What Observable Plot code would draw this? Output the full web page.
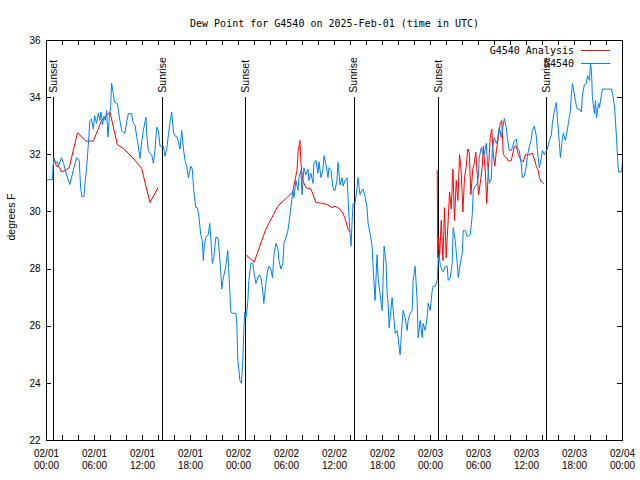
<!DOCTYPE html>
<html><head><meta charset="utf-8">
<script src="https://cdn.jsdelivr.net/npm/d3@7"></script>
<script src="https://cdn.jsdelivr.net/npm/@observablehq/plot@0.6"></script>
<style>body{margin:0;background:#fff} svg{display:block}</style>
</head><body><div id="chart"></div>
<script>
const title = "Dew Point for G4540 on 2025-Feb-01 (time in UTC)";
const yLabel = "degrees F";
const seriesNames = ["G4540 Analysis", "G4540"];
const seriesColors = ["#ff0000", "#0080ff"];
const xTicks = [0, 6, 12, 18, 24, 30, 36, 42, 48, 54, 60, 66, 72];
const xTickMarks = [0, 2, 4, 6, 8, 10, 12, 14, 16, 18, 20, 22, 24, 26, 28, 30, 32, 34, 36, 38, 40, 42, 44, 46, 48, 50, 52, 54, 56, 58, 60, 62, 64, 66, 68, 70, 72];
const xTickLabels = ["02/01\n00:00", "02/01\n06:00", "02/01\n12:00", "02/01\n18:00",
  "02/02\n00:00", "02/02\n06:00", "02/02\n12:00", "02/02\n18:00",
  "02/03\n00:00", "02/03\n06:00", "02/03\n12:00", "02/03\n18:00", "02/04\n00:00"];
const yTicks = [22, 24, 26, 28, 30, 32, 34, 36];
const sunHours = [0.88, 14.53, 24.92, 38.44, 48.96, 62.48];
const sunNames = ["Sunset", "Sunrise", "Sunset", "Sunrise", "Sunset", "Sunrise"];

// Observations (hours since 2025-02-01 00:00 UTC, degrees F)
const obsHours = [0,0.75,0.81,0.94,1.13,1.38,1.50,1.88,2.13,2.50,2.92,3.34,3.76,4.09,4.26,4.42,4.67,4.85,5.01,5.22,5.42,5.63,5.85,6.01,6.26,6.47,6.67,6.80,7.01,7.18,7.35,7.51,7.68,7.85,8.01,8.14,8.35,8.48,8.85,8.98,9.18,9.39,9.60,9.80,10.02,10.23,10.64,10.86,11.06,11.27,11.48,11.68,11.90,12.11,12.31,12.43,12.52,12.73,12.94,13.15,13.36,13.56,13.77,13.99,14.19,14.40,14.61,14.81,15.03,15.24,15.44,15.65,15.87,16.07,16.28,16.49,16.69,16.90,17.12,17.32,17.53,17.74,18.03,18.22,18.41,18.66,18.85,19.03,19.28,19.47,19.60,19.72,19.91,20.22,20.41,20.60,20.72,20.91,21.16,21.41,21.54,21.79,21.91,22.04,22.41,22.66,22.79,22.92,23.04,23.29,23.67,23.79,23.92,24.04,24.17,24.36,24.54,24.67,24.79,24.92,25.04,25.17,25.29,25.54,25.80,25.92,26.17,26.42,26.61,26.80,27.05,27.17,27.42,27.61,27.80,28.05,28.24,28.43,28.68,28.93,29.05,29.30,29.55,29.68,29.93,30.18,30.30,30.55,30.80,30.93,31.18,31.43,31.56,31.81,31.93,32.18,32.43,32.68,32.81,33.06,33.31,33.43,33.68,33.93,34.06,34.31,34.56,34.69,34.94,35.19,35.31,35.56,35.81,35.94,36.06,36.31,36.44,36.69,36.94,37.07,37.32,37.57,37.69,37.82,37.94,38.07,38.19,38.32,38.57,38.82,38.94,39.19,39.44,39.57,39.82,40.07,40.20,40.45,40.70,40.82,41.07,41.32,41.45,41.70,41.95,42.07,42.20,42.45,42.57,42.70,42.83,43.08,43.20,43.45,43.58,43.83,43.95,44.20,44.45,44.58,44.83,45.08,45.20,45.45,45.71,45.83,46.08,46.33,46.46,46.71,46.96,47.08,47.33,47.58,47.71,47.96,48.21,48.33,48.59,48.84,48.96,49.09,49.21,49.46,49.59,49.84,50.09,50.21,50.46,50.71,50.84,51.09,51.34,51.47,51.72,51.97,52.09,52.34,52.59,52.72,52.97,53.22,53.34,53.59,53.84,53.97,54.09,54.35,54.47,54.72,54.97,55.10,55.35,55.60,55.72,55.97,56.22,56.35,56.60,56.85,56.98,57.23,57.48,57.60,57.85,58.10,58.23,58.48,58.73,58.85,59.10,59.35,59.48,59.73,59.98,60.11,60.36,60.61,60.73,60.98,61.23,61.36,61.61,61.86,61.98,62.23,62.48,62.61,62.86,63.11,63.24,63.49,63.74,63.86,64.11,64.24,64.49,64.61,64.86,64.99,65.24,65.49,65.62,65.74,65.99,66.24,66.37,66.62,66.87,66.99,67.24,67.49,67.62,67.87,68.00,68.12,68.24,68.50,68.62,68.75,69.00,69.12,69.37,69.50,70.00,70.62,70.75,71.00,71.25,71.38,71.50,71.88,72.00];
const obsValues = [31.13,31.13,31.57,31.87,31.7,31.75,31.6,31.9,31.7,31.3,30.96,31.45,31.9,31.8,30.87,30.54,30.54,31.1,31.52,32.33,33.2,33.25,32.9,33.37,33.1,33.45,33.2,33.5,33.05,33.35,33.2,33.55,32.62,33.3,33.65,34.5,34.15,33.85,33.8,33.55,33.2,32.85,32.79,32.75,33.15,33.44,33.44,33.1,33.05,32.65,32.3,31.87,32.45,32.85,33.15,33.32,32.75,32.15,32.05,32.0,31.7,32.15,32.97,32.85,32.3,32.3,32.3,31.95,32.2,32.7,33.15,33.5,32.8,32.65,32.65,32.45,32.2,32.85,32.2,31.8,31.6,31.2,31.6,31.5,30.75,30.15,30.15,29.9,29.2,29.0,28.3,28.8,29.1,29.2,29.6,28.8,28.2,28.4,29.1,29.1,28.8,27.9,27.3,27.6,28.1,28.65,27.9,27.2,26.5,26.45,26.45,26.1,24.8,24.5,24.1,24.0,24.8,25.9,26.5,26.3,26.5,26.9,27.6,28.2,28.2,27.9,27.5,27.7,27.8,27.7,27.2,26.8,27.5,27.9,28.1,28.0,27.7,28.5,28.9,28.7,28.3,28.0,28.2,28.9,29.1,29.35,29.6,30.15,30.75,30.5,31.1,30.75,31.2,31.45,30.6,31.55,31.3,31.5,31.1,31.35,31.0,31.7,31.8,31.35,31.75,31.2,31.5,31.97,31.65,31.2,31.55,31.45,30.85,30.75,30.75,31.1,31.73,30.95,31.2,30.9,31.1,31.2,30.5,29.8,29.25,28.8,29.6,30.3,30.3,30.85,31.2,30.6,30.75,30.8,30.55,30.15,29.6,29.25,28.8,28.1,26.9,28.5,27.7,27.1,26.55,27.6,28.8,28.2,27.2,26.8,25.95,26.65,27.0,26.2,25.75,25.85,25.6,25.0,26.1,26.55,26.3,25.85,26.2,26.45,26.55,27.6,28.1,26.9,25.6,26.2,25.6,26.1,25.85,26.3,26.8,26.55,27.25,27.4,27.4,27.6,28.3,28.5,28.15,27.95,27.9,28.1,28.1,27.6,27.7,28.2,29.45,29.0,28.2,27.7,28.2,28.55,29.35,29.35,29.15,29.15,29.2,29.9,30.75,30.9,31.0,31.2,31.9,32.25,32.1,32.0,32.4,31.8,31.0,31.15,32.2,32.6,32.4,32.5,32.96,32.6,32.85,33.27,32.95,32.6,32.15,32.15,32.25,32.5,32.55,32.25,32.15,31.65,31.2,31.25,31.6,31.95,32.3,32.55,32.85,33.0,32.65,32.15,31.55,31.9,32.15,32.0,32.15,32.2,32.5,32.7,33.1,33.55,33.83,33.3,32.4,31.9,32.6,32.75,32.5,32.7,33.1,33.55,34.13,34.5,34.1,33.7,33.6,33.6,33.5,34.1,34.45,34.5,34.77,34.6,35.2,34.95,34.0,33.44,33.9,33.3,33.8,33.65,34.1,34.3,34.3,34.3,34.15,33.7,32.6,31.9,31.4,31.4,31.7];

// Analysis, three separate runs
const anaHours1 = [0.91,1.25,1.59,1.88,2.29,2.84,3.34,3.88,4.92,5.85,6.89,7.93,8.85,9.68,10.77,11.90,12.43,12.94,13.94];
const anaValues1 = [31.9,31.6,31.57,31.4,31.45,31.55,32.15,32.77,32.48,32.48,33.2,33.5,32.36,32.2,31.9,31.52,30.9,30.33,30.85];
const anaHours2 = [24.92,25.96,27.42,28.96,29.93,30.77,31.31,31.47,31.68,31.81,32.02,32.43,33.06,33.68,34.52,35.15,35.69,36.06,36.69,37.07,37.32,37.69,37.94];
const anaValues2 = [28.5,28.24,29.4,30.22,30.47,30.7,31.45,32.15,32.5,31.7,31.1,30.85,30.8,30.33,30.3,30.25,30.15,30.2,30.1,29.95,29.77,29.4,29.3];
const anaHours3 = [48.84,48.90,49.02,49.15,49.34,49.55,49.75,49.96,50.21,50.38,50.59,50.80,51.00,51.22,51.43,51.63,51.84,52.05,52.25,52.47,52.66,52.84,53.05,53.28,53.47,53.66,53.84,54.01,54.22,54.47,54.60,54.85,55.03,55.22,55.47,55.66,55.85,56.04,56.22,56.47,56.72,56.91,57.10,57.48,57.73,58.10,58.48,58.73,58.98,59.35,59.60,59.85,60.23,60.73,60.98,61.23,61.48,61.61,61.86,62.11];
const anaValues3 = [31.45,28.4,29.1,28.5,29.7,28.3,30.15,28.4,29.7,30.7,30.1,31.5,29.7,31.1,30.4,32.0,31.4,30.0,31.2,31.6,32.2,32.1,30.6,31.5,31.7,32.1,31.3,30.6,31.0,31.6,32.3,31.4,30.3,31.4,32.6,32.9,32.0,31.6,32.1,32.6,33.1,33.2,32.0,31.9,31.78,31.8,32.3,32.3,32.0,31.8,31.75,32.0,32.0,32.05,31.85,31.6,31.45,31.2,31.05,31.0];

const obs = obsHours.map((h, i) => ({h, v: obsValues[i]}));
const ana = [
  ...anaHours1.map((h, i) => ({h, v: anaValues1[i], run: 1})),
  ...anaHours2.map((h, i) => ({h, v: anaValues2[i], run: 2})),
  ...anaHours3.map((h, i) => ({h, v: anaValues3[i], run: 3}))
];
const sun = sunHours.map((h, i) => ({h, name: sunNames[i]}));

const W = 640, H = 480, mL = 46, mR = 18, mT = 40, mB = 40;
const innerW = W - mL - mR, innerH = H - mT - mB;
const sans = "'Liberation Sans', Arial, sans-serif";
const mono = "'DejaVu Sans Mono', monospace";

const chart = Plot.plot({
  width: W, height: H,
  marginLeft: mL, marginRight: mR, marginTop: mT, marginBottom: mB,
  style: {fontFamily: sans, fontSize: "10px", background: "white", color: "black"},
  x: {domain: [0, 72]},
  y: {domain: [22, 36]},
  marks: [
    Plot.axisX(xTicks, {tickSize: 0, tickPadding: 8, lineHeight: 1.2, label: null,
      tickFormat: d => xTickLabels[xTicks.indexOf(d)]}),
    Plot.axisY(yTicks, {tickSize: 0, tickPadding: 6, label: null}),
    Plot.tickY(yTicks, {y: d => d, insetRight: innerW - 5, stroke: "black", shapeRendering: "crispEdges"}),
    Plot.tickY(yTicks, {y: d => d, insetLeft: innerW - 5, stroke: "black", shapeRendering: "crispEdges"}),
    Plot.tickX(xTickMarks, {x: d => d, insetBottom: innerH - 5, stroke: "black", shapeRendering: "crispEdges"}),
    Plot.tickX(xTickMarks, {x: d => d, insetTop: innerH - 5, stroke: "black", shapeRendering: "crispEdges"}),
    Plot.ruleX(sun, {x: "h", y1: 22, y2: 34, stroke: "black", shapeRendering: "crispEdges"}),
    Plot.text(sun, {x: "h", y: 34, text: "name", rotate: -90, textAnchor: "start", lineAnchor: "middle", dy: -5, fontSize: 10.5}),
    Plot.line(ana, {x: "h", y: "v", z: "run", stroke: seriesColors[0], strokeWidth: 1}),
    Plot.line(obs, {x: "h", y: "v", stroke: seriesColors[1], strokeWidth: 1}),
    Plot.frame({stroke: "black", shapeRendering: "crispEdges"}),
    Plot.text([title], {frameAnchor: "top", dy: -21, fontFamily: mono, fontSize: 10}),
    Plot.text([yLabel], {frameAnchor: "left", dx: -35, rotate: -90, fontSize: 10.5})
  ]
});
document.getElementById("chart").appendChild(chart);

// Legend (top-right, inside frame)
const svg = d3.select(chart);
const lg = svg.append("g").attr("font-family", mono).attr("font-size", 10);
seriesNames.forEach((name, i) => {
  const y = 50 + i * 13;
  lg.append("text").attr("x", 574).attr("y", y).attr("dy", "0.35em").attr("text-anchor", "end").attr("fill", "black").text(name);
  lg.append("line").attr("x1", 581).attr("x2", 610).attr("y1", y + 0.5).attr("y2", y + 0.5)
    .attr("stroke", seriesColors[i]).attr("stroke-width", 1).attr("shape-rendering", "crispEdges");
});
</script>
</body></html>
